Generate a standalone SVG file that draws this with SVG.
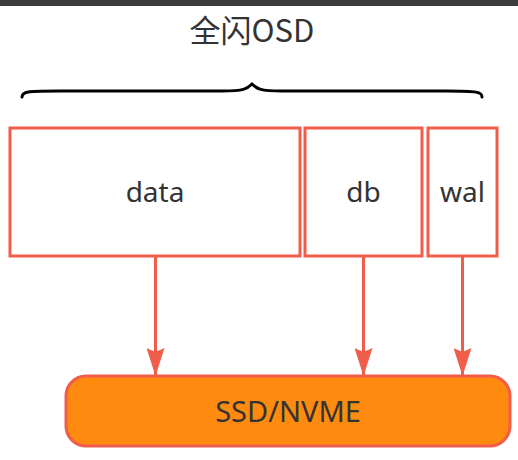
<svg xmlns="http://www.w3.org/2000/svg" width="518" height="460" viewBox="0 0 518 460">
<defs>
<marker id="ah" viewBox="0 0 28 18" refX="27" refY="9" markerWidth="28" markerHeight="18" markerUnits="userSpaceOnUse" orient="auto">
<path d="M0,0 L28,9 L0,18 L4,9 Z" fill="#F05D4B"/>
</marker>
<style>
.box{fill:#ffffff;stroke:#F05D4B;stroke-width:3}
.lbl{font-family:"Noto Sans","Open Sans","Liberation Sans",sans-serif;font-size:28px;fill:#333333;text-anchor:middle}
.conn{stroke:#F05D4B;stroke-width:3;fill:none}
</style>
</defs>
<rect x="0" y="0" width="518" height="460" fill="#ffffff"/>
<rect x="0" y="0" width="518" height="6" fill="#3c3c3c"/>
<g id="title">
<text x="252" y="42" class="lbl" style="font-family:'Noto Sans CJK SC','Noto Sans',sans-serif;font-size:31px">全闪OSD</text>
<path d="M22,97 C22,91 30,91 60,91 L222,91 C244,91 247,89 252,84 C257,89 260,91 282,91 L446,91 C478,91 482,92 482,97" fill="none" stroke="#000000" stroke-width="3" stroke-linecap="round"/>
</g>
<g id="data">
<rect x="10" y="128" width="290" height="128" class="box"/>
<text x="155" y="202" class="lbl">data</text>
</g>
<g id="db">
<rect x="305" y="128" width="117" height="128" class="box"/>
<text x="363.5" y="202" class="lbl">db</text>
</g>
<g id="wal">
<rect x="428" y="128" width="69" height="128" class="box"/>
<text x="462.5" y="202" class="lbl">wal</text>
</g>
<g id="ssd">
<rect x="66" y="376" width="444" height="70" rx="20" ry="20" fill="#FF8A10" stroke="#F05D4B" stroke-width="3"/>
<text x="288" y="422" class="lbl" style="font-size:29px">SSD/NVME</text>
</g>
<g id="connectors">
<line x1="155.5" y1="257" x2="155.5" y2="375" class="conn" marker-end="url(#ah)"/>
<line x1="363.5" y1="257" x2="363.5" y2="375" class="conn" marker-end="url(#ah)"/>
<line x1="462.5" y1="257" x2="462.5" y2="375" class="conn" marker-end="url(#ah)"/>
</g>
</svg>
